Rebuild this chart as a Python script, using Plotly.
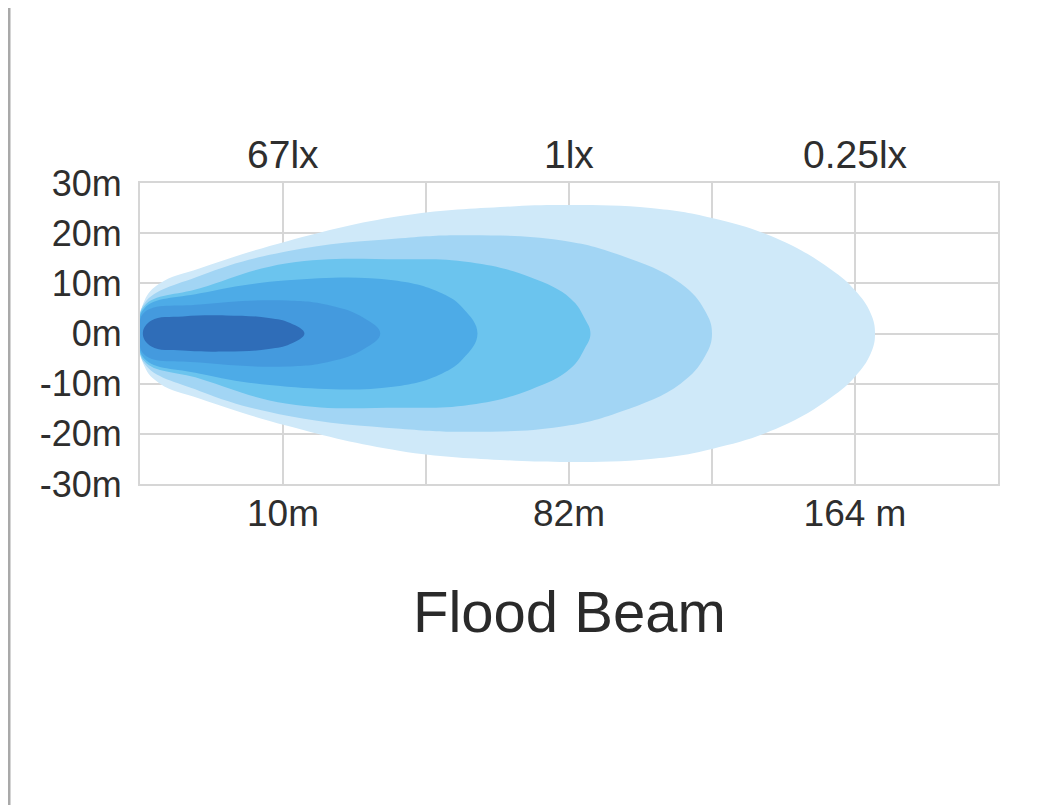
import plotly.graph_objects as go

# ---- data ----
# x positions are in grid columns (0..6); tick labels map them to distances
x_grid = [0, 1, 2, 3, 4, 5, 6]
x_tick_text = ["", "10m", "", "82m", "", "164 m", ""]
lux_pos = [1, 3, 5]
lux_text = ["67lx", "1lx", "0.25lx"]
y_ticks = [30, 20, 10, 0, -10, -20, -30]
y_tick_text = ["30m", "20m", "10m", "0m", "-10m", "-20m", "-30m"]

# beam iso-lux contours: upper profile (x column, half-width in m), outer -> inner
c1_x = [0, 0.03, 0.14, 0.42, 1.03, 1.82, 2.52, 3.01, 3.57, 4.0, 4.48, 4.83, 5.0, 5.11, 5.14]
c1_h = [0, 6.5, 10.0, 13.0, 18.4, 23.4, 25.2, 25.6, 25.0, 23.0, 18.6, 12.8, 8.6, 4.0, 0]
c2_x = [0, 0.03, 0.42, 1.03, 1.82, 2.31, 2.94, 3.36, 3.78, 3.95, 4.0]
c2_h = [0, 6.0, 11.5, 16.4, 19.0, 19.6, 18.6, 15.6, 10.0, 4.6, 0]
c3_x = [0, 0.03, 0.42, 1.03, 1.82, 2.31, 2.73, 3.01, 3.11, 3.15]
c3_h = [0, 5.5, 9.0, 14.0, 14.8, 14.2, 11.2, 7.0, 3.0, 0]
c4_x = [0, 0.03, 0.42, 1.03, 1.77, 2.11, 2.26, 2.36]
c4_h = [0, 5.0, 8.0, 10.6, 10.6, 8.0, 5.0, 0]
c5_x = [0, 0.03, 0.42, 1.03, 1.33, 1.56, 1.68]
c5_h = [0, 4.2, 5.8, 6.6, 5.6, 3.2, 0]
c6_x = [0.02, 0.08, 0.3, 0.6, 0.9, 1.05, 1.15]
c6_h = [0, 2.6, 3.4, 3.6, 3.1, 2.1, 0]
contour_colors = ["#cfe9f9", "#a2d5f4", "#6bc4ee", "#4dabe7", "#449ade", "#2f6db8"]

title_text = "Flood Beam"

contours = [(c1_x, c1_h), (c2_x, c2_h), (c3_x, c3_h), (c4_x, c4_h), (c5_x, c5_h), (c6_x, c6_h)]

fig = go.Figure()
for (cx, ch), col in zip(contours, contour_colors):
    xs = list(cx) + list(reversed(cx[1:-1]))
    ys = list(ch) + [-v for v in reversed(ch[1:-1])]
    xs.append(cx[0])
    ys.append(ch[0])
    fig.add_trace(go.Scatter(
        x=xs, y=ys, mode="lines", fill="toself", fillcolor=col,
        line=dict(color=col, width=0, shape="spline", smoothing=1.2),
        hoverinfo="skip", showlegend=False,
    ))

grid_col = "#d6d6d6"
fig.update_xaxes(
    range=[0, 6], tickmode="array", tickvals=x_grid, ticktext=x_tick_text,
    showgrid=True, gridcolor=grid_col, gridwidth=2, zeroline=False,
    showline=True, mirror=True, linecolor=grid_col, linewidth=2,
    ticks="", ticklabelstandoff=-4,
    tickfont=dict(family="Liberation Sans, Arial", size=37, color="#2e2e2e"),
    fixedrange=True, layer="below traces",
)
fig.update_yaxes(
    range=[-30, 30], tickmode="array", tickvals=y_ticks, ticktext=y_tick_text,
    showgrid=True, gridcolor=grid_col, gridwidth=2, zeroline=False,
    showline=True, mirror=True, linecolor=grid_col, linewidth=2,
    ticks="", ticklabelstandoff=9,
    tickfont=dict(family="Liberation Sans, Arial", size=36, color="#2e2e2e"),
    fixedrange=True, layer="below traces",
)

annotations = []
for xp, t in zip(lux_pos, lux_text):
    annotations.append(dict(
        x=xp, y=1, xref="x", yref="paper", text=t, showarrow=False,
        xanchor="center", yanchor="bottom", yshift=5,
        font=dict(family="Liberation Sans, Arial", size=39, color="#2e2e2e"),
    ))
annotations.append(dict(
    x=0.5, y=-0.425, xref="paper", yref="paper", text=title_text, showarrow=False,
    xanchor="center", yanchor="middle",
    font=dict(family="Liberation Sans, Arial", size=58, color="#2a2a2a"),
))

fig.update_layout(
    width=1060, height=805, autosize=False,
    margin=dict(l=132, r=70, t=175, b=329),
    paper_bgcolor="white", plot_bgcolor="white",
    annotations=annotations,
    shapes=[
        dict(type="line", xref="paper", yref="paper",
             x0=-131 / 858, x1=-131 / 858, y0=-329 / 301, y1=476 / 301,
             line=dict(color="#a9a9a9", width=3)),
    ],
)

fig.write_html("out.html")
